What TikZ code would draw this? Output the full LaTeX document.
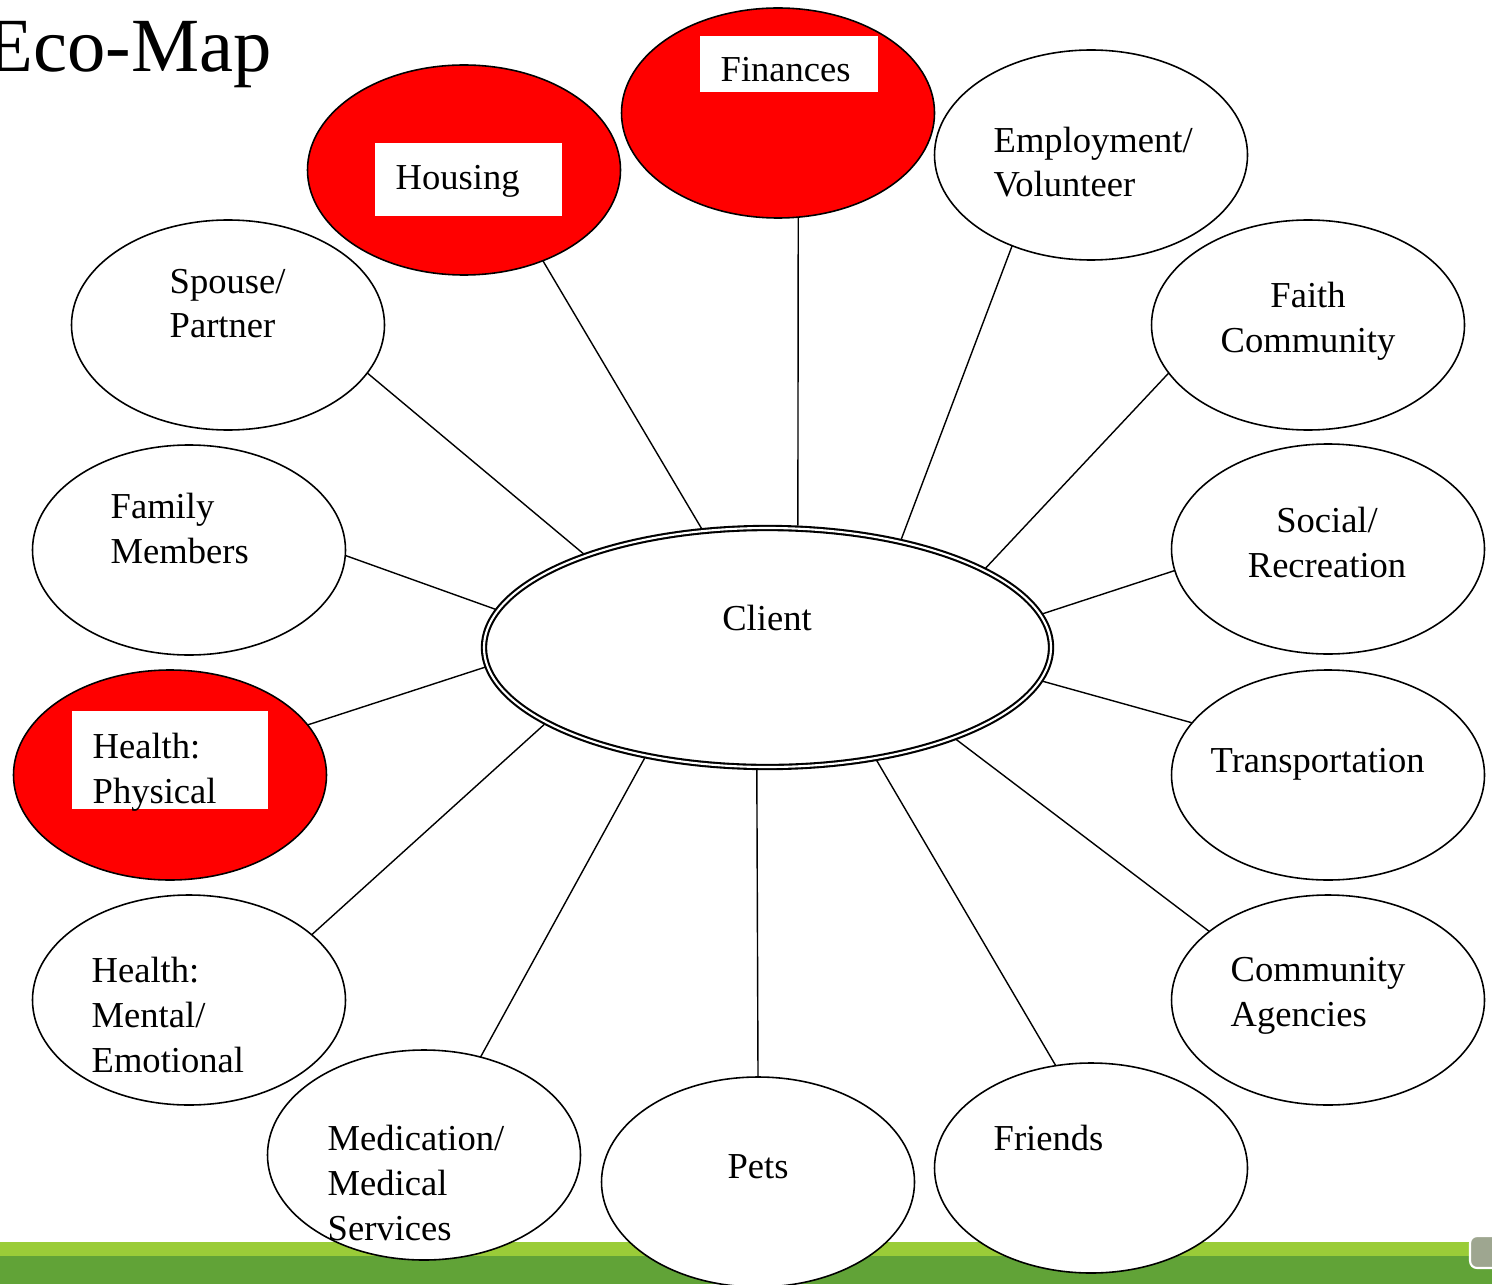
\documentclass[tikz,border=0pt]{standalone}
\usepackage{fontspec}
\setmainfont{Liberation Serif}
\usetikzlibrary{shapes.geometric}
\definecolor{ecored}{RGB}{255,0,0}
\definecolor{ecolime}{RGB}{154,204,56}
\definecolor{ecogreen}{RGB}{97,163,55}
\definecolor{ecotab}{RGB}{158,166,144}
\newcommand\ecofont{\fontsize{10.4}{12.8}\selectfont}

\begin{document}
\begin{tikzpicture}[x=0.1mm, y=-0.1mm,
    sphere/.style={draw, ellipse, fill=white, line width=0.45pt,
      minimum width=31.3mm, minimum height=21mm, inner sep=0pt, outer sep=0pt},
    hot/.style={sphere, fill=ecored},
    whitebox/.style={fill=white, inner sep=0pt, minimum width=#1},
    word/.style={font=\ecofont, inner sep=0pt, anchor=base west, align=left},
    cword/.style={font=\ecofont, inner sep=0pt, anchor=base, align=center},
    tie/.style={line width=0.4pt}]
    \useasboundingbox (0,0) rectangle (1492,1284);

    % Полоса внизу
    \fill[ecolime] (0,1242) rectangle (1492,1256);
    \fill[ecogreen] (0,1256) rectangle (1492,1284);
    \draw[white, line width=0.6pt, fill=ecotab, rounded corners=2pt]
        (1470,1236) rectangle (1500,1268);

    % Заголовок
    \node[anchor=base west, inner sep=0pt, font=\fontsize{21.8}{24}\selectfont]
        (title) at (-14,72) {Eco-Map};

    % Клиент
    \node[draw, ellipse, double, line width=0.6pt, double distance=0.6pt,
        minimum width=56.7mm, minimum height=23.9mm, outer sep=0.85pt]
        (client) at (767.5,647.5) {};

    % Окружение
    \node[hot]    (fin)   at (778,113)   {};
    \node[hot]    (hous)  at (464,170)   {};
    \node[sphere] (job)   at (1091,155)  {};
    \node[sphere] (mate)  at (228,325)   {};
    \node[sphere] (faith) at (1308,325)  {};
    \node[sphere] (fam)   at (189,550)   {};
    \node[sphere] (soc)   at (1328,549)  {};
    \node[hot]    (phys)  at (170,775)   {};
    \node[sphere] (trans) at (1328,775)  {};
    \node[sphere] (mind)  at (189,1000)  {};
    \node[sphere] (agency) at (1328,1000) {};
    \node[sphere] (meds)  at (424,1155)  {};
    \node[sphere] (pets)  at (758,1182)  {};
    \node[sphere] (pals)  at (1091,1168) {};

    % Связи
    \draw[tie] (fin.-79.8)    -- (client.76.2);
    \draw[tie] (hous.-49.3)   -- (client.119.7);
    \draw[tie] (job.229.7)    -- (client.39.2);
    \draw[tie] (mate.-19.7)   -- (client.153.6);
    \draw[tie] (faith.199.8)  -- (client.20.7);
    \draw[tie] (fam.-2.6)     -- (client.172.1);
    \draw[tie] (soc.188)      -- (client.7.7);
    \draw[tie] (phys.20.5)    -- (client.184.6);
    \draw[tie] (trans.159.9)  -- (client.-7.7);
    \draw[tie] (mind.28.8)    -- (client.199);
    \draw[tie] (agency.150.8) -- (client.-26.3);
    \draw[tie] (meds.60.5)    -- (client.222);
    \draw[tie] (pets.90)      -- (client.265.7);
    \draw[tie] (pals.109.9)   -- (client.-46);

    % Белые плашки
    \node[whitebox=17.8mm, minimum height=5.6mm] (finbox)  at (789,64)    {};
    \node[whitebox=18.7mm, minimum height=7.3mm] (housbox) at (468.5,179.5) {};
    \node[whitebox=19.6mm, minimum height=9.8mm] (physbox) at (170,760)   {};

    % Подписи (base -- по последней строке)
    \node[cword] (clienttext) at (767,630)  {Client};
    \node[word]  (fintext)    at (720,82)   {Finances};
    \node[word]  (houstext)   at (395,190)  {Housing};
    \node[word]  (jobtext)    at (993,197)  {Employment/\\Volunteer};
    \node[word]  (matetext)   at (169,338)  {Spouse/\\Partner};
    \node[cword] (faithtext)  at (1308,352) {Faith\\Community};
    \node[word]  (famtext)    at (110,563)  {Family\\Members};
    \node[cword] (soctext)    at (1327,577) {Social/\\Recreation};
    \node[word]  (phystext)   at (92,803)   {Health:\\Physical};
    \node[word]  (transtext)  at (1210,772) {Transportation};
    \node[word]  (mindtext)   at (91,1072)  {Health:\\Mental/\\Emotional};
    \node[word]  (agencytext) at (1230,1026) {Community\\Agencies};
    \node[word]  (medstext)   at (327,1240) {Medication/\\Medical\\Services};
    \node[cword] (petstext)   at (758,1178) {Pets};
    \node[word]  (palstext)   at (993,1150) {Friends};
\end{tikzpicture}
\end{document}
